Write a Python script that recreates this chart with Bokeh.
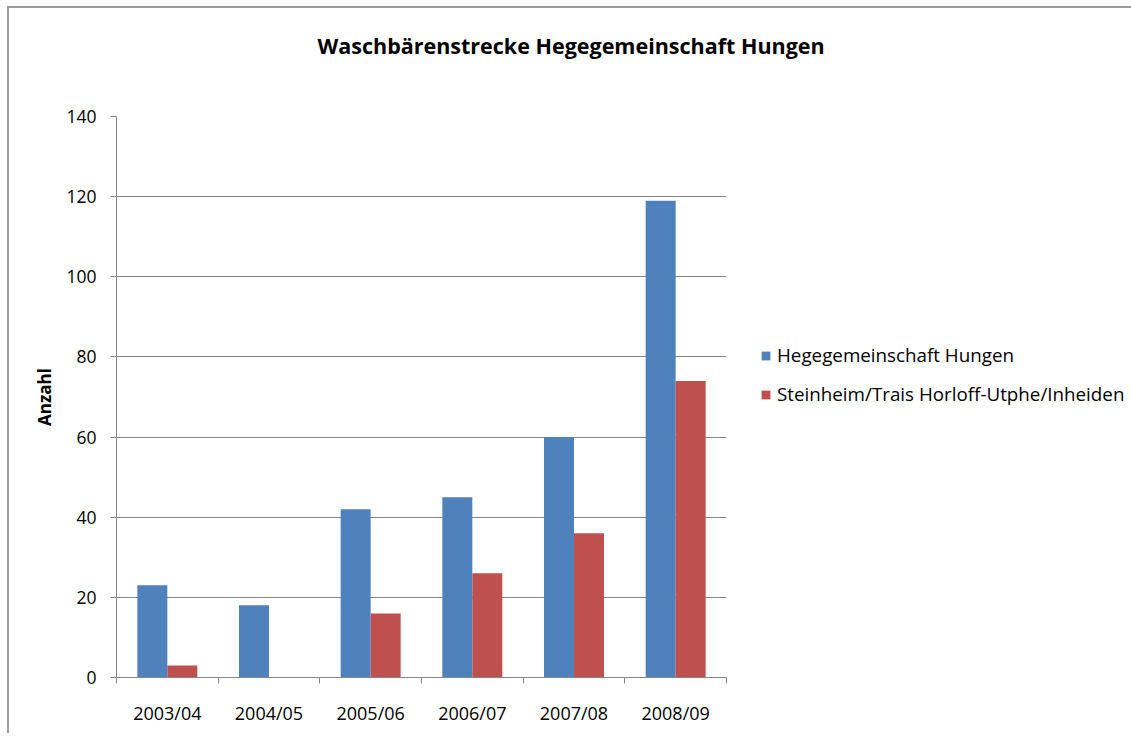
import numpy as np
from bokeh.plotting import figure
from bokeh.models import (ColumnDataSource, FixedTicker, Legend, LegendItem, Range1d, Title)
from bokeh.embed import file_html
from bokeh.resources import INLINE

categories = ["2003/04", "2004/05", "2005/06", "2006/07", "2007/08", "2008/09"]
hungen = [23, 18, 42, 45, 60, 119]
steinheim = [3, 0, 16, 26, 36, 74]
series_names = ["Hegegemeinschaft Hungen", "Steinheim/Trais Horloff-Utphe/Inheiden"]
y_ticks = [0, 20, 40, 60, 80, 100, 120, 140]
title_text = "Waschbärenstrecke Hegegemeinschaft Hungen"
y_label = "Anzahl"

BLUE = "#4F81BD"
RED = "#C0504D"
GRAY = "#868686"
FONT = "Open Sans"

centers = np.arange(len(categories)) + 0.5
bw = 0.295

src = ColumnDataSource(dict(
    xb=centers - bw / 2, xr=centers + bw / 2, hungen=hungen, steinheim=steinheim,
))

p = figure(frame_width=610, frame_height=561, output_backend="svg", toolbar_location=None,
           x_range=Range1d(0, len(categories)), y_range=Range1d(0, 140),
           min_border_left=107, min_border_right=397,
           min_border_top=108, min_border_bottom=56)
p.styles = {"margin-left": "7px", "margin-top": "6px",
            "border-left": "2px solid #9b9b9b", "border-top": "2px solid #9b9b9b"}
p.title = None
p.outline_line_color = None
p.background_fill_color = "white"
p.border_fill_color = "white"

rb = p.vbar(x="xb", top="hungen", width=bw, source=src, color=BLUE, line_color=None)
rr = p.vbar(x="xr", top="steinheim", width=bw, source=src, color=RED, line_color=None)

# axes
p.xaxis.ticker = FixedTicker(ticks=list(centers), minor_ticks=list(range(len(categories) + 1)))
p.xaxis.major_label_overrides = {float(c): lab for c, lab in zip(centers, categories)}
p.xaxis.major_tick_out = 0
p.xaxis.major_tick_in = 0
p.xaxis.minor_tick_out = 6
p.xaxis.minor_tick_in = 0
p.xaxis.minor_tick_line_color = GRAY
p.xaxis.axis_line_color = GRAY
p.xaxis.major_label_text_font = FONT
p.xaxis.major_label_text_font_size = "18px"
p.xaxis.major_label_text_color = "black"
p.xaxis.major_label_standoff = 17

p.yaxis.ticker = FixedTicker(ticks=y_ticks)
p.yaxis.minor_tick_line_color = None
p.yaxis.major_tick_out = 6
p.yaxis.major_tick_in = 0
p.yaxis.major_tick_line_color = GRAY
p.yaxis.axis_line_color = GRAY
p.yaxis.major_label_text_font = FONT
p.yaxis.major_label_text_font_size = "17.5px"
p.yaxis.major_label_text_color = "black"
p.yaxis.major_label_standoff = 14
p.yaxis.axis_label = y_label
p.yaxis.axis_label_text_font = FONT
p.yaxis.axis_label_text_font_style = "bold"
p.yaxis.axis_label_text_font_size = "17px"
p.yaxis.axis_label_text_color = "black"
p.yaxis.axis_label_standoff = 7

p.xgrid.grid_line_color = None
p.ygrid.ticker = FixedTicker(ticks=y_ticks)
p.ygrid.grid_line_color = GRAY
p.ygrid.grid_line_width = 1

legend = Legend(items=[LegendItem(label=series_names[0], renderers=[rb]),
                       LegendItem(label=series_names[1], renderers=[rr])],
                location=(34, 270), orientation="vertical")
legend.border_line_color = None
legend.background_fill_alpha = 0
legend.padding = 0
legend.margin = 0
legend.glyph_width = 11
legend.glyph_height = 11
legend.label_standoff = 6
legend.spacing = 13
legend.label_text_font = FONT
legend.label_text_font_size = "18.8px"
legend.label_text_color = "black"
legend.label_height = 24
p.add_layout(legend, "right")

# spacer panel between frame and title
spacer = Title(text=" ", standoff=54, text_font_size="1px", text_color="white")
p.add_layout(spacer, "above")

title = Title(text=title_text, align="left", offset=201, standoff=0, vertical_align="bottom",
              text_font=FONT, text_font_style="bold", text_font_size="21.5px",
              text_color="black")
p.add_layout(title, "above")

open("out.html", "w").write(file_html(p, INLINE))
